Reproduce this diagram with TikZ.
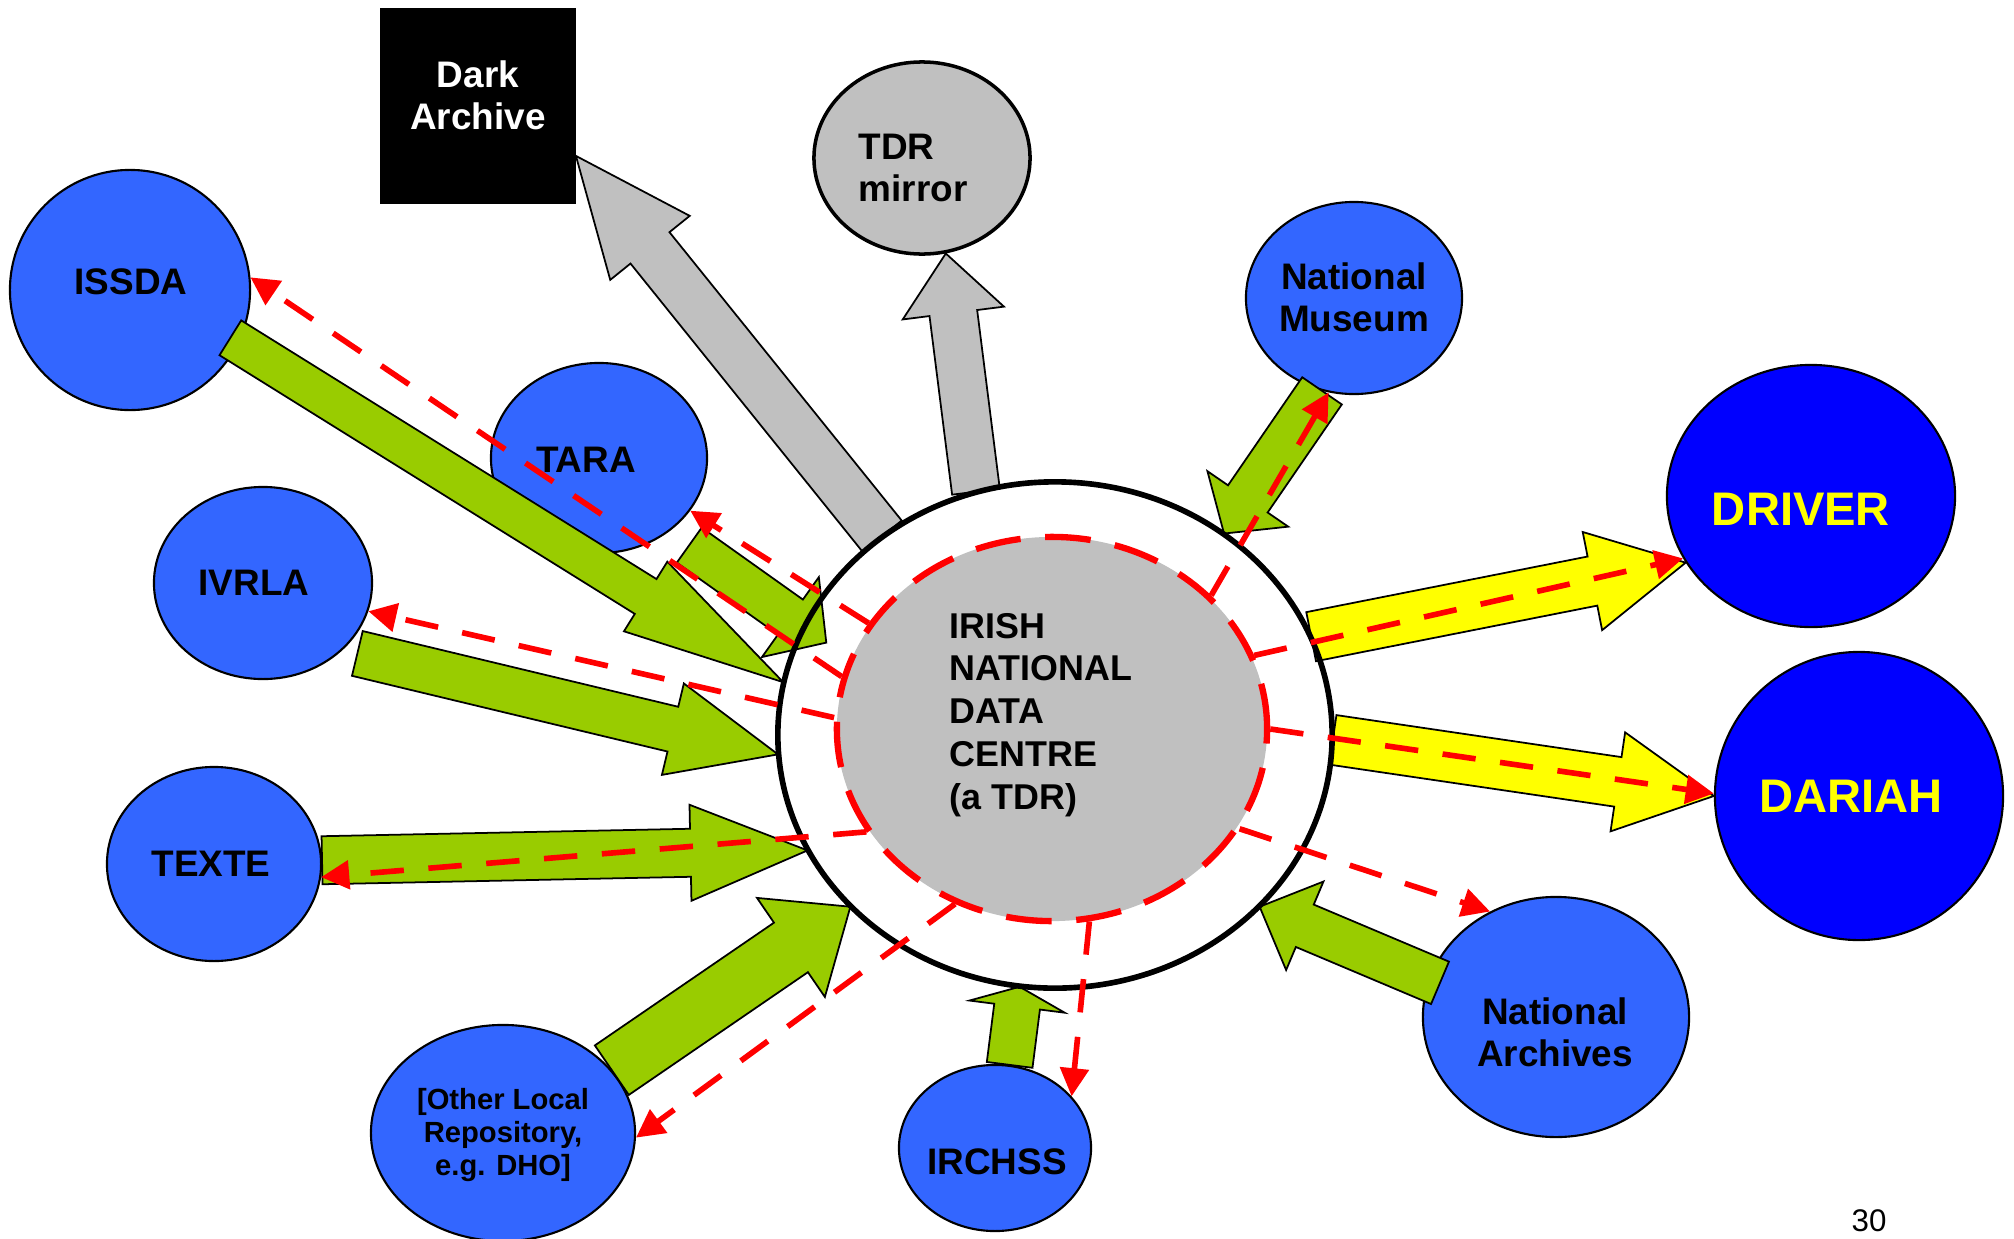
\documentclass[tikz,border=0pt]{standalone}
\usepackage{fontspec}
\setmainfont{Liberation Sans}
\usetikzlibrary{calc}
\usetikzlibrary{arrows.meta}
\usetikzlibrary{shapes.geometric}
\definecolor{OrgBlue}{HTML}{3366FF}
\definecolor{EuroBlue}{HTML}{0000FF}
\definecolor{LeafGreen}{HTML}{99CC00}
\definecolor{MidGray}{HTML}{C0C0C0}
\definecolor{SignalRed}{HTML}{FF0000}
\definecolor{BrightYellow}{HTML}{FFFF00}
\tikzset{
  org/.style={ellipse, draw, line width=0.6pt, fill=OrgBlue, inner sep=0pt},
  euro/.style={org, fill=EuroBlue},
  txt/.style={font=\bfseries\fontsize{10.5}{11.9}\selectfont, align=center, inner sep=0pt},
  bigtxt/.style={font=\bfseries\fontsize{13.4}{16}\selectfont, text=BrightYellow, inner sep=0pt},
  fatline/.style={draw=black, line width=0.5pt},
  flow/.style={SignalRed, line width=1.6pt, dash pattern=on 9.5pt off 7pt,
    -{Triangle[length=8pt,width=8pt]}}
}
% block arrow: fill, from, to, half shaft, half head, head length, tail skip
\newcommand{\fatarrow}[7]{%
  \coordinate (fa-t) at ($(#2)!#7!(#3)$);
  \coordinate (fa-j) at ($(#3)!#6!(fa-t)$);
  \draw[fatline, fill=#1] ($(fa-t)!#4!90:(#3)$) -- ($(fa-j)!#4!90:(#3)$)
    -- ($(fa-j)!#5!90:(#3)$) -- (#3) -- ($(fa-j)!#5!-90:(#3)$)
    -- ($(fa-j)!#4!-90:(#3)$) -- ($(fa-t)!#4!-90:(#3)$) -- cycle;
}

\begin{document}
\begin{tikzpicture}[x=0.01cm, y=-0.01cm]
  \useasboundingbox (0,0) rectangle (2014,1239);

  % data centre, filled first so the flows sit on it
  \node[ellipse, fill=white, inner sep=0pt, minimum width=5.54cm, minimum height=5.06cm] (hub) at (1055,735) {};

  % partners
  \node[draw, fill=black, line width=0.5pt, inner sep=0pt, minimum width=1.94cm, minimum height=1.94cm] (dark) at (478,106) {};
  \node[org, fill=MidGray, line width=1pt, minimum width=2.16cm, minimum height=1.92cm] (mirror) at (922,158) {};
  \node[org, minimum width=2.40cm, minimum height=2.40cm] (issda) at (130,290) {};
  \node[org, minimum width=2.16cm, minimum height=1.90cm] (tara) at (599,458) {};
  \node[org, minimum width=2.18cm, minimum height=1.92cm] (ivrla) at (263,583) {};
  \node[org, minimum width=2.14cm, minimum height=1.94cm] (texte) at (214,864) {};
  \node[org, minimum width=2.64cm, minimum height=2.16cm] (other) at (503,1133) {};
  \node[org, minimum width=1.92cm, minimum height=1.66cm] (irchss) at (995,1148) {};
  \node[org, minimum width=2.66cm, minimum height=2.40cm] (archives) at (1556,1017) {};
  \node[org, minimum width=2.16cm, minimum height=1.92cm] (museum) at (1354,298) {};
  \node[euro, minimum width=2.88cm, minimum height=2.62cm] (driver) at (1811,496) {};
  \node[euro, minimum width=2.88cm, minimum height=2.88cm] (dariah) at (1859,796) {};

  % block arrows
  \coordinate (taratip) at ($(hub.158)!0.1!(hub)$);
  \fatarrow{MidGray}{hub.131}{dark.-27}{0.25cm}{0.51cm}{1.18cm}{0cm}
  \fatarrow{MidGray}{hub.108}{mirror.-76}{0.24cm}{0.51cm}{0.60cm}{0cm}
  \fatarrow{LeafGreen}{issda.-26}{hub.169}{0.205cm}{0.41cm}{1.62cm}{-0.1cm}
  \fatarrow{LeafGreen}{tara.-46}{taratip}{0.215cm}{0.49cm}{0.44cm}{0.24cm}
  \fatarrow{LeafGreen}{ivrla.-40}{hub.184}{0.23cm}{0.47cm}{1.08cm}{0.15cm}
  \fatarrow{LeafGreen}{texte.2}{hub.205}{0.24cm}{0.48cm}{1.17cm}{0cm}
  \fatarrow{LeafGreen}{other.30}{hub.220}{0.30cm}{0.60cm}{0.72cm}{0cm}
  \fatarrow{LeafGreen}{irchss.80}{hub.262}{0.23cm}{0.48cm}{0.20cm}{0cm}
  \fatarrow{LeafGreen}{archives.163}{hub.-40}{0.23cm}{0.48cm}{0.49cm}{-0.12cm}
  \fatarrow{LeafGreen}{museum.-109}{hub.50}{0.24cm}{0.49cm}{0.42cm}{0cm}
  \fatarrow{BrightYellow}{hub.21}{driver.208}{0.25cm}{0.50cm}{0.95cm}{0cm}
  \fatarrow{BrightYellow}{hub.-1}{dariah.180}{0.25cm}{0.50cm}{0.97cm}{0cm}

  \draw[line width=1.6pt] (hub.center) ellipse [x radius=2.77cm, y radius=2.53cm];
  \node[ellipse, fill=MidGray, draw=SignalRed, line width=1.8pt, dash pattern=on 13pt off 7pt,
    inner sep=0pt, minimum width=4.30cm, minimum height=3.84cm] (core) at (1052,729) {};

  % labels
  \node[txt, align=left, anchor=west, font=\bfseries\fontsize{10.2}{12.2}\selectfont] (hub-txt) at (949,715)
    {IRISH\\NATIONAL\\DATA\\CENTRE\\(a TDR)};
  \node[txt, text=white] (dark-txt) at (478,95) {Dark\\Archive};
  \node[txt, align=left, anchor=west] (mirror-txt) at (858,168) {TDR\\mirror};
  \node[txt] (issda-txt) at (131,282) {ISSDA};
  \node[txt] (tara-txt) at (586,460) {TARA};
  \node[txt] (ivrla-txt) at (254,583) {IVRLA};
  \node[txt] (texte-txt) at (211,864) {TEXTE};
  \node[txt, font=\bfseries\fontsize{8.3}{9.5}\selectfont] (other-txt) at (503,1135)
    {[Other Local\\Repository,\\e.g. DHO]};
  \node[txt] (irchss-txt) at (997,1162) {IRCHSS};
  \node[txt] (archives-txt) at (1555,1032) {National\\Archives};
  \node[txt] (museum-txt) at (1354,297) {National\\Museum};
  \node[bigtxt] (driver-txt) at (1801,509) {DRIVER};
  \node[bigtxt] (dariah-txt) at (1851,796) {DARIAH};
  \node[font=\fontsize{8.9}{10}\selectfont, inner sep=0pt] (page) at (1869,1221) {30};

  % deposit flows out of the TDR
  \foreach \src/\dst in {core.166/issda.6, core.150/tara.-30, core.177/ivrla.-15,
      core.209/texte.-7, core.241/other.-2, core.-79/irchss.34, core.-28/archives.122,
      core.0/dariah.179, core.20/driver.206, core.40/museum.255}{%
    \draw[flow] (\src) -- (\dst);
  }
\end{tikzpicture}
\end{document}
